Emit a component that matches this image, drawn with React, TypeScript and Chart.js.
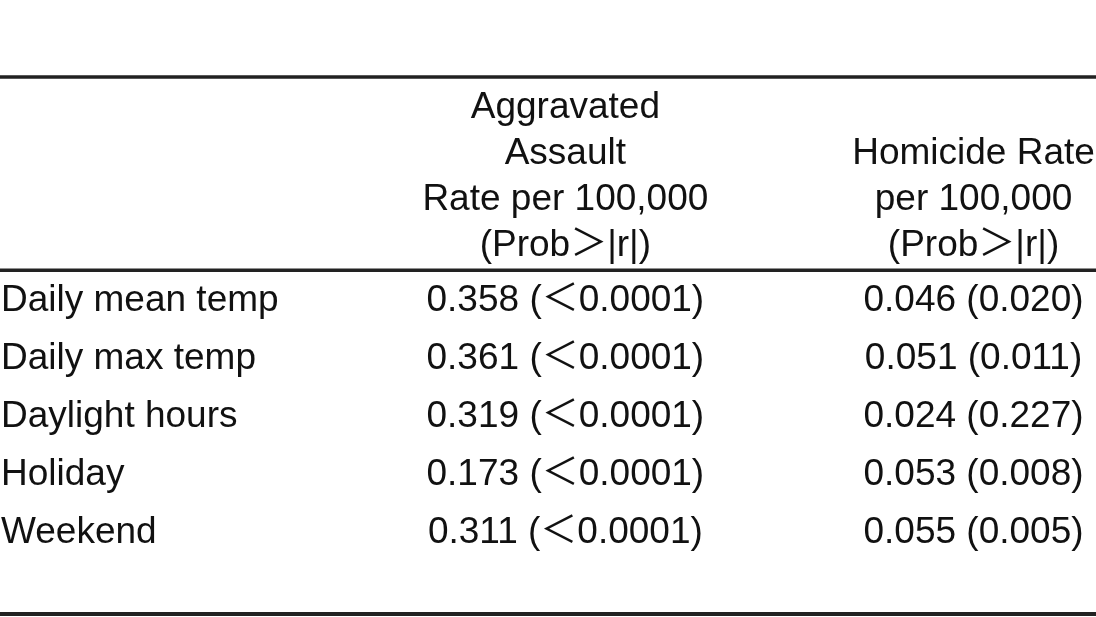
import React, { useEffect, useRef } from "react";
import { Chart, registerables } from "chart.js";

Chart.register(...registerables);

// ---- Table content ----
const rowLabels = [
  "Daily mean temp",
  "Daily max temp",
  "Daylight hours",
  "Holiday",
  "Weekend",
];
const assaultHeader = ["Aggravated", "Assault", "Rate per 100,000", "(Prob>|r|)"];
const homicideHeader = ["Homicide Rate", "per 100,000", "(Prob>|r|)"];
const assaultR = [0.358, 0.361, 0.319, 0.173, 0.311];
const assaultP = ["<0.0001", "<0.0001", "<0.0001", "<0.0001", "<0.0001"];
const homicideR = [0.046, 0.051, 0.024, 0.053, 0.055];
const homicideP = ["0.020", "0.011", "0.227", "0.008", "0.005"];

const W = 1096;
const H = 617;
const FONT = '37px "Liberation Sans", Arial, "Noto Sans CJK JP", sans-serif';
const TEXT = "#111111";
const RULE = "#222222";

// rule positions in row units (data row 0 at 0)
const RULE_TOP = -3.81;
const RULE_MID = -0.48;
const RULE_BOTTOM = 5.45;
const HEADER_LAST = -0.95; // last header line position
const HEADER_STEP = 0.795; // header line spacing in row units
const TEXT_SHIFT = 0.05;

// draw comparison signs with the thin full-width glyph, as in the reference
const glyphs = (s: string) => s.replace(/</g, "\uFF1C").replace(/>/g, "\uFF1E");

const tablePlugin = {
  id: "tablePlugin",
  afterDraw(chart: any) {
    const ctx = chart.ctx as CanvasRenderingContext2D;
    const xs = chart.scales.x;
    const ys = chart.scales.y;
    const area = chart.chartArea;
    ctx.save();
    // rules
    ctx.strokeStyle = RULE;
    const rule = (v: number, w: number) => {
      const y = ys.getPixelForValue(v);
      ctx.lineWidth = w;
      ctx.beginPath();
      ctx.moveTo(area.left, y);
      ctx.lineTo(area.right, y);
      ctx.stroke();
    };
    rule(RULE_TOP, 3.5);
    rule(RULE_MID, 3.5);
    rule(RULE_BOTTOM, 4);

    ctx.font = FONT;
    ctx.fillStyle = TEXT;
    ctx.textBaseline = "middle";

    // headers (bottom aligned)
    ctx.textAlign = "center";
    const hx1 = xs.getPixelForValue(1);
    const hx2 = xs.getPixelForValue(2);
    assaultHeader.forEach((t, i) => {
      const v = HEADER_LAST - (assaultHeader.length - 1 - i) * HEADER_STEP + TEXT_SHIFT;
      ctx.fillText(glyphs(t), hx1, ys.getPixelForValue(v));
    });
    homicideHeader.forEach((t, i) => {
      const v = HEADER_LAST - (homicideHeader.length - 1 - i) * HEADER_STEP + TEXT_SHIFT;
      ctx.fillText(glyphs(t), hx2, ys.getPixelForValue(v));
    });

    // body
    rowLabels.forEach((lab, i) => {
      const y = ys.getPixelForValue(i + TEXT_SHIFT);
      ctx.textAlign = "left";
      ctx.fillText(lab, area.left + 1, y);
      ctx.textAlign = "center";
      ctx.fillText(glyphs(`${assaultR[i].toFixed(3)} (${assaultP[i]})`), hx1, y);
      ctx.fillText(glyphs(`${homicideR[i].toFixed(3)} (${homicideP[i]})`), hx2, y);
    });
    ctx.restore();
  },
};

export default function App() {
  const ref = useRef<HTMLCanvasElement | null>(null);
  useEffect(() => {
    document.body.style.margin = "0";
    document.body.style.background = "#ffffff";
    const canvas = ref.current!;
    const chart = new Chart(canvas, {
      type: "scatter",
      data: {
        datasets: [
          {
            data: rowLabels.map((_, i) => ({ x: 1, y: i })),
            pointRadius: 0,
            showLine: false,
          },
          {
            data: rowLabels.map((_, i) => ({ x: 2, y: i })),
            pointRadius: 0,
            showLine: false,
          },
        ],
      },
      options: {
        animation: false,
        responsive: false,
        layout: { padding: 0 },
        events: [],
        plugins: {
          legend: { display: false },
          tooltip: { enabled: false },
          title: { display: false },
        },
        scales: {
          x: { type: "linear", display: false, min: -0.385, max: 2.3 },
          y: { type: "linear", display: false, reverse: true, min: -5.138, max: 5.5 },
        },
      },
      plugins: [tablePlugin],
    });
    return () => chart.destroy();
  }, []);
  return (
    <div style={{ width: W, height: H, background: "#fff" }}>
      <canvas ref={ref} width={W} height={H} style={{ display: "block" }} />
    </div>
  );
}
